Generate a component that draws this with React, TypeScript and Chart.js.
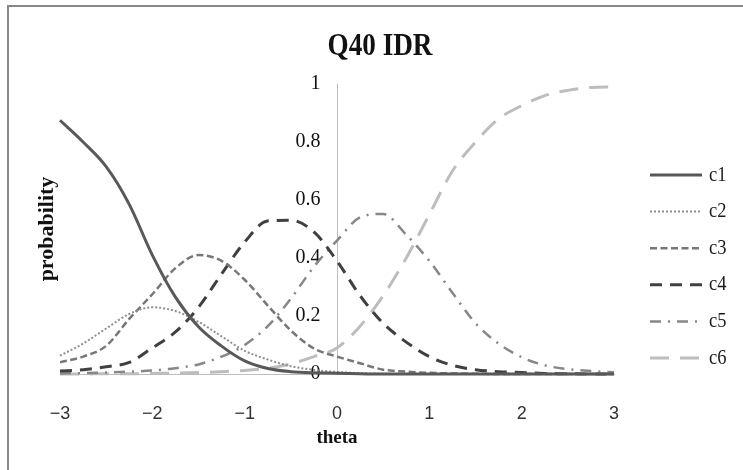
import React, { useEffect, useRef } from 'react';
import { Chart, registerables } from 'chart.js';

Chart.register(...registerables);

const TITLE = 'Q40 IDR';
const X_TITLE = 'theta';
const Y_TITLE = 'probability';
const SERIES_NAMES = ['c1', 'c2', 'c3', 'c4', 'c5', 'c6'];
const X_TICKS = [-3, -2, -1, 0, 1, 2, 3];
const Y_TICKS = [0, 0.2, 0.4, 0.6, 0.8, 1];

const THETA = [-3, -2.75, -2.5, -2.25, -2, -1.75, -1.5, -1.25, -1, -0.75, -0.5, -0.25, 0, 0.25, 0.5, 0.75, 1, 1.25, 1.5, 1.75, 2, 2.25, 2.5, 2.75, 3];
const C1 = [0.875, 0.8, 0.715, 0.585, 0.41, 0.265, 0.163, 0.096, 0.045, 0.019, 0.008, 0.004, 0.003, 0.001, 0, 0, 0, 0, 0, 0, 0, 0, 0, 0, 0];
const C2 = [0.063, 0.105, 0.157, 0.207, 0.23, 0.217, 0.18, 0.13, 0.08, 0.05, 0.027, 0.014, 0.007, 0.003, 0.001, 0, 0, 0, 0, 0, 0, 0, 0, 0, 0];
const C3 = [0.04, 0.06, 0.097, 0.19, 0.275, 0.365, 0.41, 0.39, 0.325, 0.236, 0.15, 0.088, 0.06, 0.037, 0.015, 0.008, 0.004, 0.002, 0.001, 0, 0, 0, 0, 0, 0];
const C4 = [0.01, 0.015, 0.025, 0.04, 0.09, 0.145, 0.23, 0.345, 0.455, 0.528, 0.53, 0.49, 0.39, 0.27, 0.175, 0.11, 0.06, 0.03, 0.015, 0.008, 0.005, 0.002, 0.001, 0, 0];
const C5 = [0.002, 0.003, 0.005, 0.008, 0.012, 0.02, 0.033, 0.06, 0.1, 0.165, 0.26, 0.37, 0.46, 0.54, 0.552, 0.48, 0.39, 0.28, 0.175, 0.105, 0.058, 0.03, 0.017, 0.01, 0.006];
const C6 = [0, 0, 0.001, 0.001, 0.002, 0.003, 0.005, 0.008, 0.012, 0.02, 0.035, 0.06, 0.09, 0.165, 0.27, 0.4, 0.55, 0.7, 0.8, 0.88, 0.925, 0.96, 0.978, 0.988, 0.99];

const SERIES = [C1, C2, C3, C4, C5, C6];
const COLORS = ['#595959', '#8f8f8f', '#777777', '#404040', '#878787', '#bdbdbd'];
const WIDTHS = [3, 2, 2.5, 3, 2.5, 3];
const DASHES: number[][] = [[], [2, 2], [7, 3.5], [12, 8], [11, 7, 2, 7], [19, 11]];

const SERIF = '"Liberation Serif", "Times New Roman", serif';

// Title and legend drawn with a slight horizontal condensation, as in the reference.
const sideDecor = {
  id: 'sideDecor',
  afterDraw(chart: any) {
    const ctx = chart.ctx as CanvasRenderingContext2D;
    const area = chart.chartArea;
    ctx.save();
    // title
    ctx.save();
    ctx.translate(380, 47);
    ctx.scale(0.85, 1);
    ctx.fillStyle = '#111';
    ctx.font = `bold 32px ${SERIF}`;
    ctx.textAlign = 'center';
    ctx.textBaseline = 'middle';
    ctx.fillText(TITLE, 0, 0);
    ctx.restore();
    // legend
    const x0 = area.right + 36;
    const x1 = x0 + 52;
    chart.data.datasets.forEach((ds: any, i: number) => {
      const y = 175 + i * 36.6;
      ctx.beginPath();
      ctx.strokeStyle = ds.borderColor;
      ctx.lineWidth = ds.borderWidth;
      ctx.lineCap = 'butt';
      ctx.setLineDash(ds.borderDash || []);
      ctx.moveTo(x0, y);
      ctx.lineTo(x1, y);
      ctx.stroke();
      ctx.setLineDash([]);
      ctx.save();
      ctx.translate(x1 + 7, y);
      ctx.scale(0.88, 1);
      ctx.fillStyle = '#1a1a1a';
      ctx.font = `21px ${SERIF}`;
      ctx.textAlign = 'left';
      ctx.textBaseline = 'middle';
      ctx.fillText(ds.label, 0, 0);
      ctx.restore();
    });
    ctx.restore();
  },
};

export default function App() {
  const ref = useRef<HTMLCanvasElement>(null);

  useEffect(() => {
    const datasets = SERIES.map((vals, i) => ({
      label: SERIES_NAMES[i],
      data: THETA.map((t, j) => ({ x: t, y: vals[j] })),
      borderColor: COLORS[i],
      backgroundColor: COLORS[i],
      borderWidth: WIDTHS[i],
      borderDash: DASHES[i],
      borderCapStyle: 'butt',
      pointRadius: 0,
      fill: false,
      cubicInterpolationMode: 'monotone',
      clip: 6,
      xAxisID: 'x',
      yAxisID: 'y',
    }));

    const chart = new Chart(ref.current as HTMLCanvasElement, {
      type: 'line',
      data: { datasets } as any,
      plugins: [sideDecor],
      options: {
        animation: false,
        responsive: false,
        maintainAspectRatio: false,
        devicePixelRatio: 1,
        events: [],
        layout: { padding: { left: 0, right: 129, top: 84, bottom: 0 } },
        plugins: {
          legend: { display: false },
          tooltip: { enabled: false },
          title: { display: false },
        },
        scales: {
          x: {
            type: 'linear',
            position: 'bottom',
            min: X_TICKS[0],
            max: X_TICKS[X_TICKS.length - 1],
            afterBuildTicks: (s: any) => { s.ticks = X_TICKS.map((v) => ({ value: v })); },
            ticks: {
              padding: 21,
              maxRotation: 0,
              autoSkip: false,
              color: '#333',
              font: { family: '"Liberation Sans", Arial, sans-serif', size: 18 },
              callback: (v: any) => (Number(v) < 0 ? '\u2212' + Math.abs(Number(v)) : String(v)),
            },
            grid: { display: false },
            border: { display: true, color: '#bdbdbd', width: 1 },
            title: {
              display: true,
              text: X_TITLE,
              color: '#111',
              font: { family: SERIF, size: 19, weight: 'bold', lineHeight: 1.2 },
              padding: { top: 0, bottom: 21 },
            },
            afterFit: (s: any) => { s.height = 96; },
          },
          y: {
            type: 'linear',
            position: { x: 0 },
            min: 0,
            max: 1,
            ticks: { display: false },
            grid: { display: false },
            border: { display: true, color: '#bdbdbd', width: 1 },
            afterFit: (s: any) => { s.width = 0; },
          },
          yLabels: {
            type: 'linear',
            axis: 'y',
            position: { x: -0.18 },
            min: 0,
            max: 1,
            afterBuildTicks: (s: any) => { s.ticks = Y_TICKS.map((v) => ({ value: v })); },
            ticks: {
              color: '#111',
              font: { family: SERIF, size: 20 },
              callback: (v: any) => String(Math.round(Number(v) * 10) / 10),
            },
            grid: { display: false },
            border: { display: false },
            afterFit: (s: any) => { s.width = 0; },
          },
          yTitle: {
            type: 'linear',
            axis: 'y',
            position: 'left',
            min: 0,
            max: 1,
            ticks: { display: false },
            grid: { display: false },
            border: { display: false },
            title: {
              display: true,
              text: Y_TITLE,
              color: '#111',
              font: { family: SERIF, size: 22, weight: 'bold', lineHeight: 1.2 },
              padding: { top: 34, bottom: 0 },
            },
            afterFit: (s: any) => { s.width = 60; },
          },
        },
      } as any,
    });
    return () => chart.destroy();
  }, []);

  return (
    <div style={{ position: 'fixed', left: 0, top: 0, width: 743, height: 470, background: '#fff', overflow: 'hidden' }}>
      <div
        style={{
          position: 'absolute',
          left: 7,
          top: 5,
          width: 760,
          height: 490,
          borderTop: '2px solid #878787',
          borderLeft: '2px solid #878787',
        }}
      />
      <canvas ref={ref} width={743} height={470} style={{ position: 'absolute', left: 0, top: 0, width: 743, height: 470 }} />
    </div>
  );
}
